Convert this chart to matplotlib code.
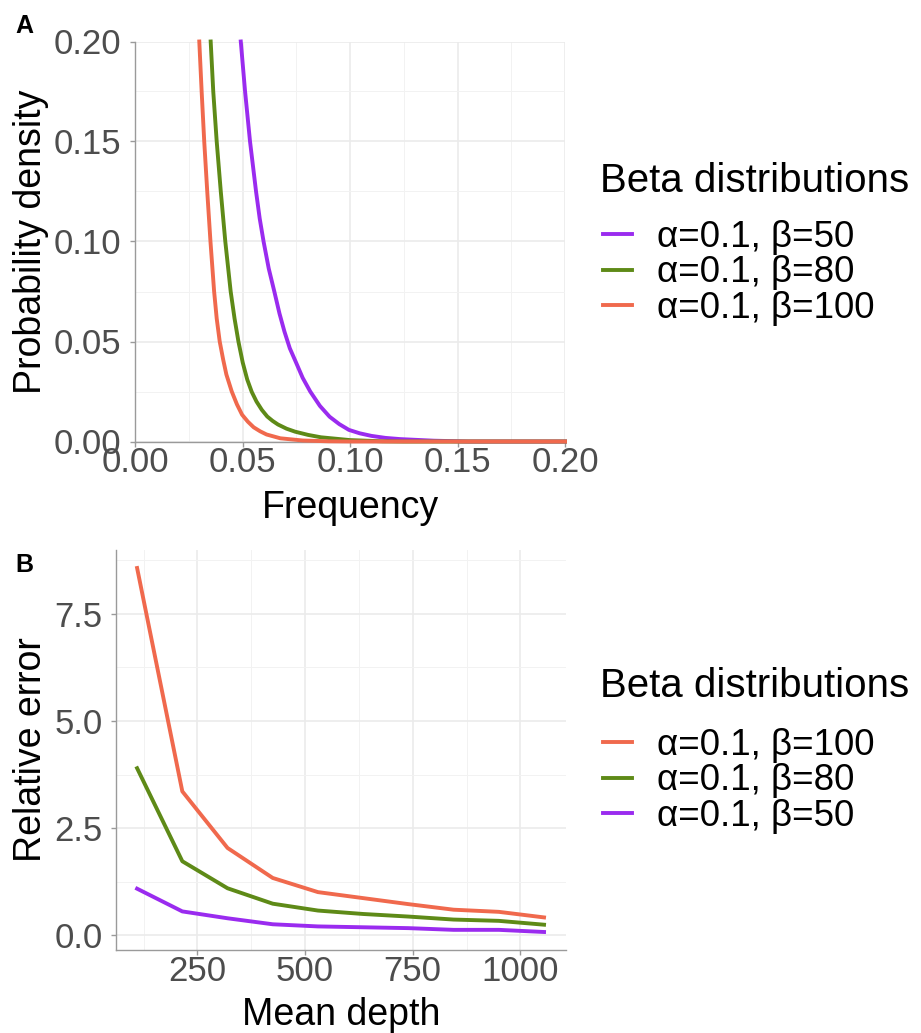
import matplotlib
matplotlib.use('Agg')
import matplotlib.pyplot as plt
from matplotlib.ticker import MultipleLocator, FormatStrFormatter

plt.rcParams['font.family'] = ['Liberation Sans', 'DejaVu Sans']

# colours of the three beta distributions
c50 = '#9A2BEF'
c80 = '#5E8A17'
c100 = '#F0694D'

# panel A: density curves
freq_100 = [0.0299, 0.0310, 0.0322, 0.0336, 0.0351, 0.0368, 0.0380, 0.0394, 0.0410,
            0.0425, 0.0450, 0.0474, 0.0498, 0.0525, 0.0552, 0.0582, 0.0612, 0.0676,
            0.0780, 0.0900, 0.1000, 0.2000]
dens_100 = [0.200, 0.175, 0.150, 0.125, 0.100, 0.075, 0.0615, 0.050, 0.041,
            0.0335, 0.025, 0.0186, 0.0134, 0.0099, 0.0071, 0.0051, 0.0035, 0.0016,
            0.0005, 0.0001, 0.0, 0.0]

freq_80 = [0.0352, 0.0364, 0.0380, 0.0399, 0.0420, 0.0445, 0.0463, 0.0481, 0.0501,
           0.0522, 0.0543, 0.0565, 0.0590, 0.0615, 0.0640, 0.0665, 0.0705, 0.0745,
           0.0805, 0.0865, 0.1000, 0.1150, 0.1250, 0.2000]
dens_80 = [0.200, 0.175, 0.150, 0.125, 0.100, 0.075, 0.0615, 0.050, 0.0395,
           0.031, 0.0248, 0.020, 0.0158, 0.0125, 0.0103, 0.0085, 0.0064, 0.0049,
           0.0033, 0.0021, 0.0007, 0.0001, 0.0, 0.0]

freq_50 = [0.0492, 0.0512, 0.0535, 0.0563, 0.0580, 0.0598, 0.0622, 0.0648, 0.0672,
           0.0695, 0.0720, 0.0747, 0.0780, 0.0815, 0.0860, 0.0905, 0.0950, 0.0995,
           0.1045, 0.1100, 0.1165, 0.1233, 0.1390, 0.1550, 0.2000]
dens_50 = [0.200, 0.175, 0.150, 0.125, 0.1115, 0.100, 0.0865, 0.075, 0.064,
           0.055, 0.0466, 0.040, 0.0318, 0.025, 0.0178, 0.0124, 0.0087, 0.0058,
           0.0041, 0.0028, 0.0018, 0.0012, 0.0004, 0.0, 0.0]

# panel B: relative error vs mean depth
depth = [110, 215, 320, 425, 530, 635, 740, 845, 950, 1055]
err_100 = [8.57, 3.36, 2.04, 1.34, 1.01, 0.87, 0.73, 0.60, 0.55, 0.42]
err_80 = [3.90, 1.73, 1.10, 0.74, 0.58, 0.50, 0.44, 0.37, 0.34, 0.25]
err_50 = [1.09, 0.56, 0.40, 0.26, 0.21, 0.19, 0.17, 0.13, 0.13, 0.08]

lab50 = 'α=0.1, β=50'
lab80 = 'α=0.1, β=80'
lab100 = 'α=0.1, β=100'

TICK = 25
LABEL = 27
LEG = 26.5
LEGT = 29

W, H = 921, 1033
fig = plt.figure(figsize=(W / 100, H / 100), dpi=100)

def px_axes(left, right, top, bottom):
    return fig.add_axes([left / W, 1 - bottom / H, (right - left) / W, (bottom - top) / H])

def style(ax):
    ax.set_facecolor('white')
    ax.grid(which='major', color='#EBEBEB', lw=1.2, zorder=0)
    ax.grid(which='minor', color='#F2F2F2', lw=0.7, zorder=0)
    ax.set_axisbelow(True)
    for s in ['top', 'right']:
        ax.spines[s].set_visible(False)
    for s in ['left', 'bottom']:
        ax.spines[s].set_color('#9A9A9A')
        ax.spines[s].set_linewidth(1.0)
    ax.tick_params(which='major', length=3.6, width=1.0, color='#9A9A9A',
                   labelsize=TICK, labelcolor='#4D4D4D')
    ax.tick_params(axis='y', pad=6)
    ax.tick_params(axis='x', pad=0)
    ax.tick_params(which='minor', length=0)

def legend(ax, handles, labels, title, title_y, mid_y):
    fig.text(600 / W, 1 - title_y / H, title, fontsize=LEGT, va='baseline', ha='left')
    ax.legend(handles, labels, loc='center left', bbox_to_anchor=(603 / W, 1 - mid_y / H),
              bbox_transform=fig.transFigure, frameon=False, fontsize=LEG,
              handlelength=0.8, handletextpad=0.68, labelspacing=0.02,
              borderpad=0, borderaxespad=0)

line_kw = dict(lw=2.8, zorder=3, solid_joinstyle='round')

# ---- Panel A
axA = px_axes(135, 565, 41.5, 441.5)
style(axA)
l50, = axA.plot(freq_50, dens_50, color=c50, clip_on=False, **line_kw)
l80, = axA.plot(freq_80, dens_80, color=c80, clip_on=False, **line_kw)
l100, = axA.plot(freq_100, dens_100, color=c100, clip_on=False, **line_kw)
axA.set_xlim(0, 0.2)
axA.set_ylim(0, 0.2)
axA.xaxis.set_major_locator(MultipleLocator(0.05))
axA.xaxis.set_minor_locator(MultipleLocator(0.025))
axA.yaxis.set_major_locator(MultipleLocator(0.05))
axA.yaxis.set_minor_locator(MultipleLocator(0.025))
axA.xaxis.set_major_formatter(FormatStrFormatter('%.2f'))
axA.yaxis.set_major_formatter(FormatStrFormatter('%.2f'))
axA.set_xlabel('Frequency', fontsize=LABEL, va='baseline')
axA.set_ylabel('Probability density', fontsize=LABEL, va='baseline')
axA.xaxis.set_label_coords(0.5, (441.5 - 518) / 400)
axA.yaxis.set_label_coords((41 - 135) / 430, 0.5)
legend(axA, [l50, l80, l100], [lab50, lab80, lab100], 'Beta distributions', 192, 273)
fig.text(15 / W, 1 - 33 / H, 'A', fontsize=18, fontweight='bold', va='baseline')

# ---- Panel B
axB = px_axes(116, 566, 550, 950)
style(axB)
m100, = axB.plot(depth, err_100, color=c100, **line_kw)
m80, = axB.plot(depth, err_80, color=c80, **line_kw)
m50, = axB.plot(depth, err_50, color=c50, **line_kw)
axB.set_xlim(61, 1106)
axB.set_ylim(-0.34, 8.99)
axB.xaxis.set_major_locator(MultipleLocator(250))
axB.xaxis.set_minor_locator(MultipleLocator(125))
axB.yaxis.set_major_locator(MultipleLocator(2.5))
axB.yaxis.set_minor_locator(MultipleLocator(1.25))
axB.yaxis.set_major_formatter(FormatStrFormatter('%.1f'))
axB.set_xlabel('Mean depth', fontsize=LABEL, va='baseline')
axB.set_ylabel('Relative error', fontsize=LABEL, va='baseline')
axB.xaxis.set_label_coords(0.5, (950 - 1025) / 400)
axB.yaxis.set_label_coords((41 - 116) / 450, 0.5)
legend(axB, [m100, m80, m50], [lab100, lab80, lab50], 'Beta distributions', 697, 781)
fig.text(15 / W, 1 - 572 / H, 'B', fontsize=18, fontweight='bold', va='baseline')

fig.savefig('out.png', dpi=100, facecolor='white')
